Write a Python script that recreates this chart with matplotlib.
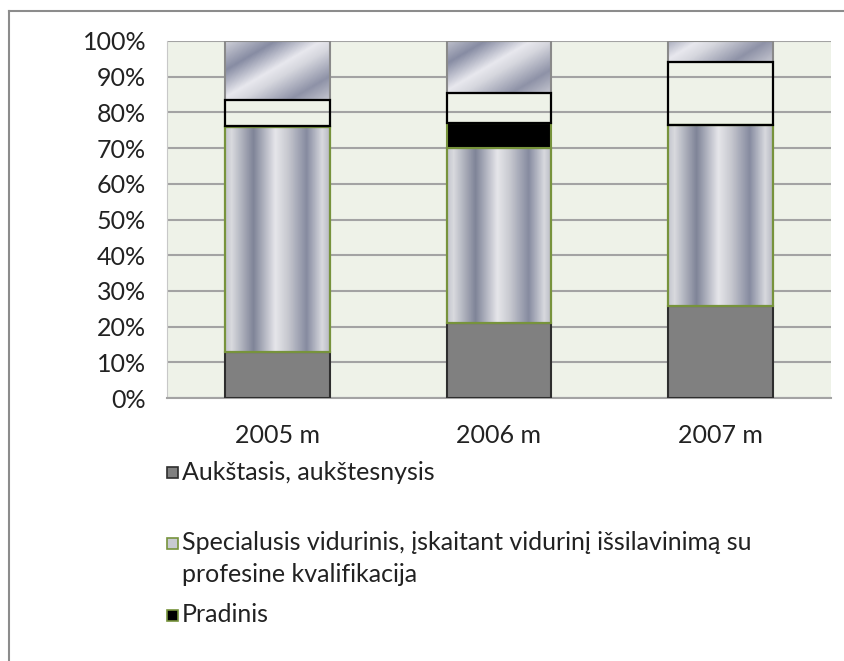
import numpy as np
import matplotlib.pyplot as plt
from matplotlib.colors import LinearSegmentedColormap
from matplotlib.patches import Rectangle

plt.rcParams["font.family"] = ["Lato", "DejaVu Sans"]

# data (shares of each year, %)
years = ["2005 m", "2006 m", "2007 m"]
aukstasis = [12.9, 20.9, 25.8]
specialusis = [62.9, 49.0, 50.7]
pradinis = [0.3, 7.1, 0.0]
vidurinis = [7.4, 8.3, 17.7]
kita = [16.5, 14.7, 5.8]
yticks = [0, 10, 20, 30, 40, 50, 60, 70, 80, 90, 100]
legend_labels = [
    "Aukštasis, aukštesnysis",
    "Specialusis vidurinis, įskaitant vidurinį išsilavinimą su\nprofesine kvalifikacija",
    "Pradinis",
]

BG = "#eef2e8"
GRID = "#a3a3a3"
FS = 18

stripe_cmap = LinearSegmentedColormap.from_list(
    "stripe",
    [(0.0, "#c4c6cf"), (0.06, "#d9dade"), (0.27, "#7f8498"), (0.48, "#e6e6ea"),
     (0.60, "#c8c9d0"), (0.78, "#868ba0"), (0.93, "#d8d9de"), (1.0, "#b8bac4")])
diag_cmap = LinearSegmentedColormap.from_list(
    "diag",
    [(0.0, "#d4d5dc"), (0.25, "#878ca3"), (0.47, "#e8e8ee"), (0.57, "#d6d7de"),
     (0.80, "#8e92a7"), (1.0, "#c8c9d2")])

fig = plt.figure(figsize=(8.44, 6.61), dpi=100)
ax = fig.add_axes([167 / 844, 1 - 398 / 661, 664 / 844, 357 / 661])
ax.set_facecolor(BG)

x = np.arange(len(years))
width = 0.474

b1 = np.array(aukstasis)
b2 = b1 + np.array(specialusis)
b3 = b2 + np.array(pradinis)
b4 = b3 + np.array(vidurinis)

ax.bar(x, aukstasis, width, color="#808080", edgecolor="#2e2e2e", linewidth=1.5, zorder=3)
spec = ax.bar(x, specialusis, width, bottom=b1, facecolor="none",
              edgecolor="#77933c", linewidth=1.6, zorder=4)
ax.bar(x, pradinis, width, bottom=b2, color="black", edgecolor="#77933c", linewidth=1.5, zorder=4)
ax.bar(x, vidurinis, width, bottom=b3, facecolor="none", edgecolor="black", linewidth=1.6, zorder=5)
top = ax.bar(x, kita, width, bottom=b4, facecolor="none", edgecolor="#8a8a8a", linewidth=1.5, zorder=4)

# gradient fills
px_per_unit = 357 / 100.0
for r in spec.patches:
    x0, y0, w, h = r.get_x(), r.get_y(), r.get_width(), r.get_height()
    grad = np.linspace(0, 1, 200)[None, :]
    ax.imshow(grad, cmap=stripe_cmap, extent=[x0, x0 + w, y0, y0 + h],
              aspect="auto", zorder=3, interpolation="bilinear")
for r in top.patches:
    x0, y0, w, h = r.get_x(), r.get_y(), r.get_width(), r.get_height()
    wpx, hpx = 105, max(int(h * px_per_unit), 2)
    xx, yy = np.meshgrid(np.arange(wpx), np.arange(hpx))
    # yy counts from the top of the segment downwards
    t = (xx * 0.5 + yy * 0.87 - (hpx - 60) * 0.87) / (105 * 0.5 + 60 * 0.87)
    ax.imshow(np.clip(t, 0, 1), cmap=diag_cmap, vmin=0, vmax=1,
              extent=[x0, x0 + w, y0, y0 + h], origin="upper",
              aspect="auto", zorder=3, interpolation="bilinear")
ax.set_xlim(-0.5, 2.5)
ax.set_ylim(0, 100)

ax.set_yticks(yticks)
ax.set_yticklabels([f"{v}%" for v in yticks])
ax.set_xticks(x)
ax.set_xticklabels(years)
ax.tick_params(axis="both", length=0, labelsize=FS, colors="#222222")
ax.tick_params(axis="y", pad=15)
ax.tick_params(axis="x", pad=19)
ax.yaxis.grid(True, color=GRID, linewidth=1.5, zorder=0)
ax.set_axisbelow(True)
for s in ["top", "right"]:
    ax.spines[s].set_visible(False)
ax.spines["left"].set_color("#c8c8c8")
ax.spines["left"].set_linewidth(0.8)
ax.spines["bottom"].set_color(GRID)
ax.spines["bottom"].set_linewidth(1.5)

# legend (drawn by hand to keep Excel spacing)
leg_y = [472, 543, 615]
leg_face = ["#808080", "#c8cad2", "black"]
leg_edge = ["#2e2e2e", "#77933c", "#77933c"]
for lab, yy, fc, ec in zip(legend_labels, leg_y, leg_face, leg_edge):
    fig.patches.append(Rectangle((167 / 844, 1 - (yy + 6) / 661), 11 / 844, 11 / 661,
                                 transform=fig.transFigure, facecolor=fc,
                                 edgecolor=ec, linewidth=1.2))
    for i, line in enumerate(lab.split("\n")):
        fig.text(182 / 844, 1 - (yy + 31 * i) / 661, line, fontsize=FS, va="center",
                 ha="left", color="#222222")

# outer chart border (cropped at right and bottom)
fig.add_artist(plt.Line2D([9 / 844, 9 / 844], [0, 1 - 11 / 661], transform=fig.transFigure,
                          color="#8c8c8c", linewidth=1.5))
fig.add_artist(plt.Line2D([9 / 844, 1], [1 - 11 / 661, 1 - 11 / 661], transform=fig.transFigure,
                          color="#8c8c8c", linewidth=1.5))

fig.savefig("out.png", dpi=100)
